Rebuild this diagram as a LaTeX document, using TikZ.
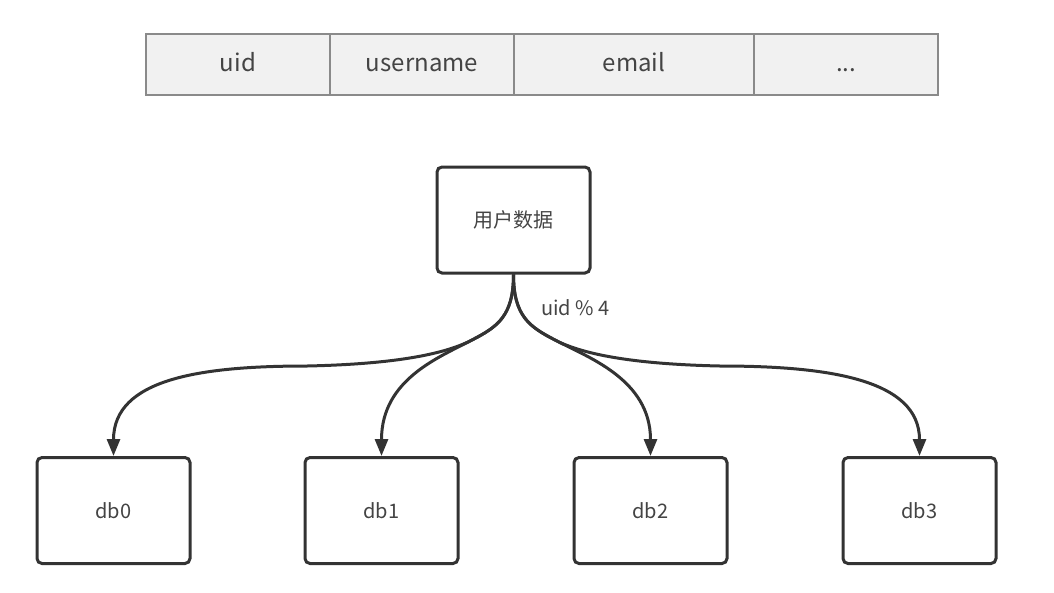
\documentclass[tikz,border=0pt]{standalone}
\usepackage{fontspec}
\setmainfont{Noto Sans CJK SC}
\usetikzlibrary{arrows.meta}
\definecolor{ink}{HTML}{333333}
\definecolor{txt}{HTML}{444444}
\definecolor{cellfill}{HTML}{F1F1F1}
\definecolor{cellline}{HTML}{8A8A8A}
\tikzset{
  cell/.style={draw=cellline, fill=cellfill, line width=1.3pt, minimum height=61pt, inner sep=0pt, text=txt, text height=17pt, text depth=4pt, font=\fontsize{24}{28}\selectfont},
  box/.style={draw=ink, fill=white, line width=3pt, rounded corners=5pt, minimum width=153pt, minimum height=106pt, inner sep=0pt, text=txt, font=\fontsize{20}{24}\selectfont},
  link/.style={draw=ink, line width=3pt, -{Triangle[length=17pt,width=13pt]}},
  lbl/.style={text=txt, font=\fontsize{20}{24}\selectfont, inner sep=0pt}
}
\begin{document}
\begin{tikzpicture}[x=1pt,y=-1pt]
\useasboundingbox (0,0) rectangle (1054,592);
\node[cell, minimum width=184pt] (c1) at (238,64.5) {uid};
\node[cell, minimum width=184pt] (c2) at (422,64.5) {username};
\node[cell, minimum width=240pt] (c3) at (634,64.5) {email};
\node[cell, minimum width=184pt] (c4) at (846,64.5) {...};
\node[box] (top) at (513.5,220) {用户数据};
\node[box] (d0) at (113.5,510.5) {db0};
\node[box] (d1) at (381.5,510.5) {db1};
\node[box] (d2) at (650.5,510.5) {db2};
\node[box] (d3) at (919.5,510.5) {db3};
\node[lbl, anchor=west] (mod) at (541,308) {uid \% 4};
\coordinate (jl) at (472,340);
\coordinate (jr) at (555,340);
\coordinate (m0) at (307,366);
\coordinate (m3) at (720,366);
% left branch
\draw[link] (top.south) .. controls +(0,42) and +(25,-13) .. (jl)
  .. controls +(-25,13) and +(93,-2) .. (m0)
  .. controls +(-107,0) and +(0,-77) .. (d0.north);
\draw[link] (top.south) .. controls +(0,42) and +(25,-13) .. (jl)
  .. controls +(-32,17) and +(0,-77) .. (d1.north);
% right branch
\draw[link] (top.south) .. controls +(0,42) and +(-25,-13) .. (jr)
  .. controls +(32,17) and +(0,-77) .. (d2.north);
\draw[link] (top.south) .. controls +(0,42) and +(-25,-13) .. (jr)
  .. controls +(25,13) and +(-93,-2) .. (m3)
  .. controls +(107,0) and +(0,-77) .. (d3.north);
\end{tikzpicture}
\end{document}
